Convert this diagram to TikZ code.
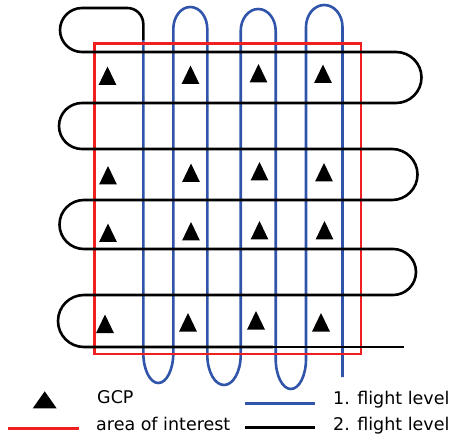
\documentclass[tikz,border=0pt]{standalone}
\usepackage{fontspec}
\setmainfont{DejaVu Sans}
\definecolor{flightblue}{RGB}{48,84,170}
\definecolor{aoired}{RGB}{240,32,32}
\begin{document}
\begin{tikzpicture}[x=1pt,y=-1pt,
  route/.style={line width=2.6pt, line join=round},
  levelone/.style={route, draw=flightblue},
  leveltwo/.style={route, draw=black},
  aoi/.style={line width=2.4pt, draw=aoired},
  keyline/.style={line width=3pt},
  gcp/.pic={\fill[black] (0,-9.5) -- (8.9,9) -- (-8.9,9) -- cycle;},
  gcpkey/.pic={\fill[black] (0,-8.7) -- (12,8.4) -- (-12,8.4) -- cycle;},
  keytext/.style={anchor=base west, inner sep=0pt, font=\fontsize{17.5}{20}\selectfont}]
\useasboundingbox (0,0) rectangle (449,435);

% 1. flight level: north-south strips
\draw[levelone] (143.3,40) -- (143.3,353)
  arc[start angle=180, end angle=0, x radius=15, y radius=30]
  -- (173.3,29)
  arc[start angle=180, end angle=360, x radius=17, y radius=22]
  -- (207.3,355)
  arc[start angle=180, end angle=0, x radius=16.7, y radius=30]
  -- (240.7,31)
  arc[start angle=180, end angle=360, x radius=17.5, y radius=22]
  -- (275.7,359)
  arc[start angle=180, end angle=0, x radius=15.15, y radius=30]
  -- (306,27)
  arc[start angle=180, end angle=360, x radius=18.25, y radius=22]
  -- (342.5,377);

% area of interest
\draw[aoi] (94.5,43.5) rectangle (361,354);

% 2. flight level: east-west strips
\draw[leveltwo] (143.3,40) -- (143.3,24)
  arc[start angle=0, end angle=-90, radius=16]
  -- (82,8)
  arc[start angle=270, end angle=90, radius=22]
  -- (396,52)
  arc[start angle=-90, end angle=90, radius=25.5]
  -- (82,103)
  arc[start angle=270, end angle=90, radius=23]
  -- (392,149)
  arc[start angle=-90, end angle=90, radius=25.5]
  -- (84,200)
  arc[start angle=270, end angle=90, radius=24.5]
  -- (393,249)
  arc[start angle=-90, end angle=90, radius=23]
  -- (84,295)
  arc[start angle=270, end angle=90, radius=26]
  -- (273,347) coordinate (lasttrack);
\coordinate (trackend) at (404,347);
\draw[line width=1.3pt] (lasttrack) -- (trackend);

% ground control points
\foreach \n/\px/\py in {
  11/107.5/76, 12/190.5/75, 13/258.5/73.5, 14/323/74,
  21/108/175.5, 22/191/173, 23/259.5/171.5, 24/324/172.5,
  31/108/233, 32/191/231.5, 33/259.5/230.5, 34/324.5/230.5,
  41/105/324, 42/188/322.5, 43/256/320.5, 44/321/322.5}
  \pic (gcp\n) at (\px,\py) {gcp};

% key
\pic (keygcp) at (44.7,400) {gcpkey};
\node[keytext] (txtgcp) at (97,403) {GCP};
\coordinate (aoiA) at (8,428);
\coordinate (aoiB) at (79,428);
\draw[keyline, draw=aoired] (aoiA) -- (aoiB);
\node[keytext] (txtaoi) at (96,430) {area of interest};
\coordinate (oneA) at (245,403);
\coordinate (oneB) at (315,403);
\draw[keyline, draw=flightblue] (oneA) -- (oneB);
\node[keytext] (txtone) at (333,404.5) {1. flight level};
\coordinate (twoA) at (245,427);
\coordinate (twoB) at (315,427);
\draw[keyline, draw=black] (twoA) -- (twoB);
\node[keytext] (txttwo) at (333,430) {2. flight level};
\end{tikzpicture}
\end{document}
